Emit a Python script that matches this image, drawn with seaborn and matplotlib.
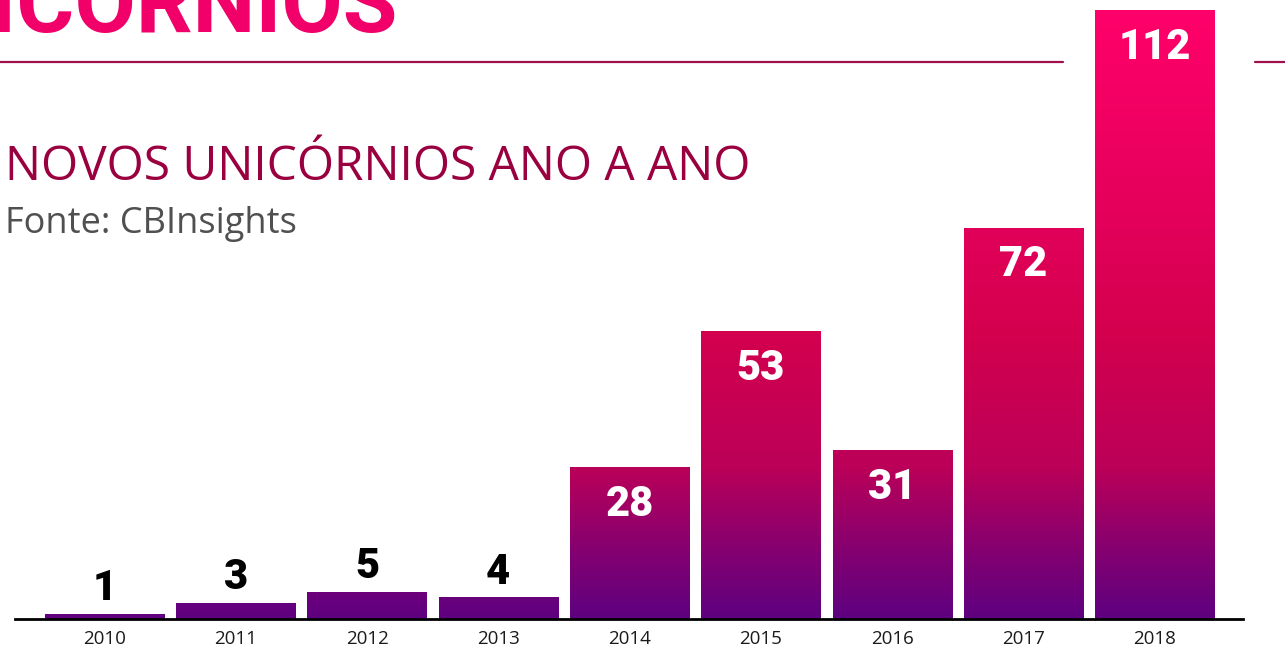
import numpy as np
import pandas as pd
import matplotlib
matplotlib.use("Agg")
import matplotlib.pyplot as plt
import seaborn as sns
from matplotlib.colors import LinearSegmentedColormap
from matplotlib.lines import Line2D

# data
years = ["2010", "2011", "2012", "2013", "2014", "2015", "2016", "2017", "2018"]
novos = [1, 3, 5, 4, 28, 53, 31, 72, 112]

df = pd.DataFrame({"ano": years, "novos": novos})

sns.set_theme(style="white")
plt.rcParams["font.family"] = ["Open Sans", "DejaVu Sans"]

fig = plt.figure(figsize=(12.85, 6.5), dpi=100)
ax = fig.add_axes([15 / 1285, 31 / 650, 1228 / 1285, 609 / 650])

sns.barplot(data=df, x="ano", y="novos", ax=ax, width=0.907, color="#600080",
            saturation=1)

ymax = 112
# purple -> pink gradient along the value axis
grad = LinearSegmentedColormap.from_list("uni", [
    (0.0, "#5E0080"),
    (14 / ymax, "#8A006E"),
    (28 / ymax, "#BC0058"),
    (53 / ymax, "#D4004E"),
    (72 / ymax, "#E2005A"),
    (1.0, "#FF006A"),
])
img = np.linspace(0, 1, 256).reshape(-1, 1)
for p in ax.patches:
    x0 = p.get_x()
    w = p.get_width()
    p.set_facecolor("none")
    p.set_edgecolor("none")
    im = ax.imshow(img, extent=[x0, x0 + w, 0, ymax], origin="lower",
                   aspect="auto", cmap=grad, zorder=2)
    im.set_clip_path(p)

ax.set_xlim(-0.682, 8.674)
ax.set_ylim(0, ymax)

# value labels: white inside the tall bars, black above the short ones
lab_font = ["Roboto", "DejaVu Sans"]
for i, v in enumerate(novos):
    if v >= 10:
        ax.annotate(str(v), (i, v), xytext=(0, -27), textcoords="offset points",
                    ha="center", va="center", color="white", fontsize=30,
                    fontweight="heavy", family=lab_font, zorder=5)
    else:
        ax.annotate(str(v), (i, v), xytext=(0, 18), textcoords="offset points",
                    ha="center", va="center", color="black", fontsize=30,
                    fontweight="heavy", family=lab_font, zorder=5)

sns.despine(ax=ax, left=True, top=True, right=True)
ax.spines["bottom"].set_color("black")
ax.spines["bottom"].set_linewidth(2)
ax.set_yticks([])
ax.set_xlabel("")
ax.set_ylabel("")
ax.tick_params(axis="x", length=0, pad=8, labelsize=13.5, colors="#1a1a1a")
ax.patch.set_alpha(0)

# header (cut at the top of the slide, as in the original)
fig.text(397 / 1285, 1 - 32 / 650, "UNICÓRNIOS", ha="right", va="baseline",
         fontsize=64, fontweight="bold", color="#F2006A",
         family=["Roboto", "DejaVu Sans"])
fig.add_artist(Line2D([0, 1063 / 1285], [1 - 62 / 650] * 2, color="#A0104A", lw=1.6))
fig.add_artist(Line2D([1255 / 1285, 1], [1 - 62 / 650] * 2, color="#A0104A", lw=1.6))

fig.text(5 / 1285, 1 - 180 / 650, "NOVOS UNICÓRNIOS ANO A ANO", ha="left", va="baseline",
         fontsize=34.5, color="#9A0040")
fig.text(5 / 1285, 1 - 233 / 650, "Fonte: CBInsights", ha="left", va="baseline",
         fontsize=26, color="#505050")

fig.savefig("out.png", dpi=100)
